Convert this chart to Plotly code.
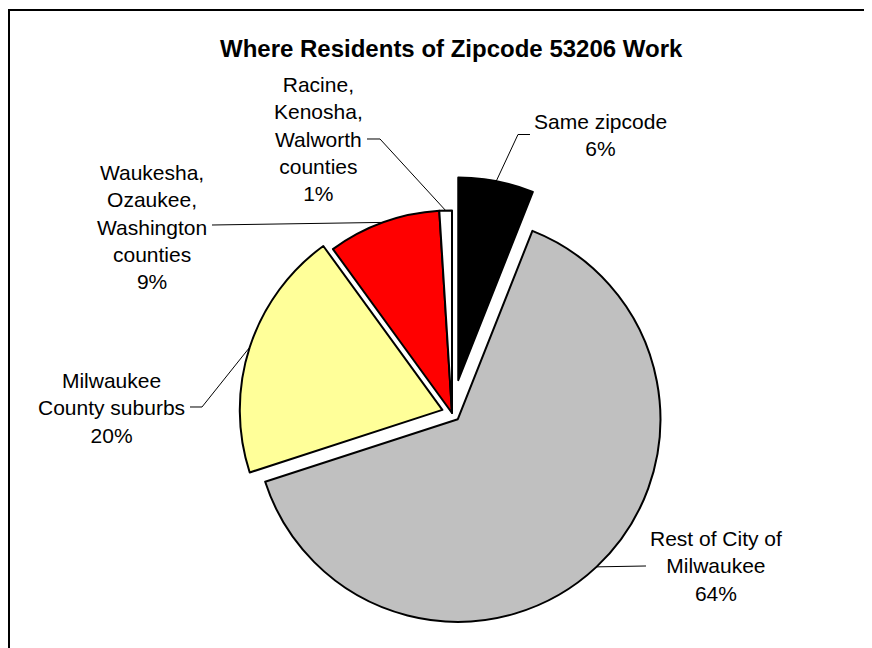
import math
import plotly.graph_objects as go

# ---- data ----
categories = ["Same zipcode", "Rest of City of Milwaukee", "Milwaukee County suburbs",
              "Waukesha, Ozaukee, Washington counties", "Racine, Kenosha, Walworth counties"]
label_texts = ["Same zipcode<br>6%", "Rest of City of<br>Milwaukee<br>64%",
               "Milwaukee<br>County suburbs<br>20%",
               "Waukesha,<br>Ozaukee,<br>Washington<br>counties<br>9%",
               "Racine,<br>Kenosha,<br>Walworth<br>counties<br>1%"]
values = [6, 64, 20, 9, 1]
colors = ["#000000", "#C0C0C0", "#FFFF99", "#FF0000", "#FFFFFF"]
pulls = [0.165, 0.042, 0.05, 0.0, 0.0]

# ---- layout geometry (screen pixels; page has an 8px body margin) ----
W, H = 872, 648
OFF = 8
cx, cy, box = 452, 413, 472
dom_x = [(cx - OFF - box / 2) / W, (cx - OFF + box / 2) / W]
dom_y = [1 - (cy - OFF + box / 2) / H, 1 - (cy - OFF - box / 2) / H]
r = (box / 2) / (1 + max(pulls))

def px(x):
    return (x - OFF) / W

def py(y):
    return 1 - (y - OFF) / H

fig = go.Figure(go.Pie(
    labels=categories, values=values, sort=False, direction="clockwise", rotation=0,
    pull=pulls, textinfo="none", hoverinfo="skip",
    marker=dict(colors=colors, line=dict(color="#000000", width=2)),
    domain=dict(x=dom_x, y=dom_y), showlegend=False,
))

# label block centers and leader-line waypoints (screen pixels)
label_pos = [(600, 135), (716, 566), (111, 408), (152, 227), (318, 139)]
leader_way = [[(518, 134.5), (530, 134.5)],
              [(646, 566)],
              [(202, 407), (190, 407)],
              [(212, 225)],
              [(380, 139), (367, 139)]]

total = sum(values)
cum = 0
shapes = []
annotations = []
for i, v in enumerate(values):
    mid = (cum + v / 2) / total * 2 * math.pi
    cum += v
    ox = cx + pulls[i] * r * math.sin(mid)
    oy = cy - pulls[i] * r * math.cos(mid)
    ax = ox + r * math.sin(mid)
    ay = oy - r * math.cos(mid)
    pts = [(ax, ay)] + leader_way[i]
    path = "M " + " L ".join(f"{px(x):.5f},{py(y):.5f}" for x, y in pts)
    shapes.append(dict(type="path", xref="paper", yref="paper", path=path,
                       line=dict(color="#000000", width=1)))
    lx, ly = label_pos[i]
    annotations.append(dict(text=label_texts[i], x=px(lx), y=py(ly), xref="paper", yref="paper",
                            xanchor="center", yanchor="middle", align="center", showarrow=False,
                            font=dict(family="Arial, Liberation Sans", size=21, color="#000000")))

annotations.append(dict(text="<b>Where Residents of Zipcode 53206 Work</b>", x=px(452), y=py(49),
                        xref="paper", yref="paper", xanchor="center", yanchor="middle",
                        showarrow=False,
                        font=dict(family="Arial, Liberation Sans", size=24, color="#000000")))

# chart frame
shapes.append(dict(type="rect", xref="paper", yref="paper", x0=px(9), y0=py(10), x1=px(900), y1=py(700),
                   line=dict(color="#000000", width=2), fillcolor="rgba(0,0,0,0)"))

fig.update_layout(width=W, height=H, margin=dict(l=0, r=0, t=0, b=0),
                  paper_bgcolor="#FFFFFF", plot_bgcolor="#FFFFFF",
                  shapes=shapes, annotations=annotations)

fig.write_html("out.html")
